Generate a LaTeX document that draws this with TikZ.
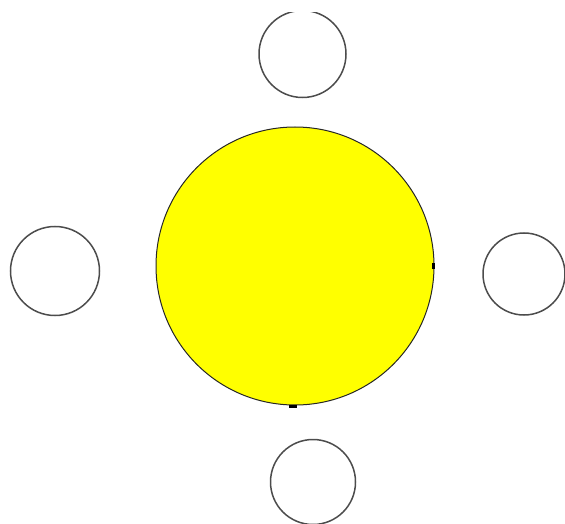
\documentclass[tikz,border=0pt]{standalone}
\definecolor{pureyellow}{RGB}{255,255,0}
\begin{document}
\begin{tikzpicture}[x=1pt,y=-1pt,
  smallc/.style={circle,draw=black!70,line width=1.5pt,minimum size=86pt,inner sep=0pt,fill=white},
  bigc/.style={circle,draw=black!85,line width=1pt,fill=pureyellow,minimum size=278pt,inner sep=0pt},
  marker/.style={fill=black,minimum width=3pt,minimum height=3pt,inner sep=0pt}]
\useasboundingbox (0,0) rectangle (565,524);
\node[bigc] (sun) at (295,266) {};
\node[marker,minimum height=6pt] (mr) at (433,266) {};
\node[marker,minimum width=8pt] (mb) at (293,406) {};
\begin{scope}
\clip (0,13) rectangle (565,524);
\node[smallc,minimum size=87pt] (top) at (302.5,54) {};
\end{scope}
\node[smallc,minimum size=89pt] (left) at (55,271) {};
\node[smallc,minimum size=82pt] (right) at (524,274) {};
\node[smallc,minimum size=85pt] (bottom) at (313,482) {};
\end{tikzpicture}
\end{document}
